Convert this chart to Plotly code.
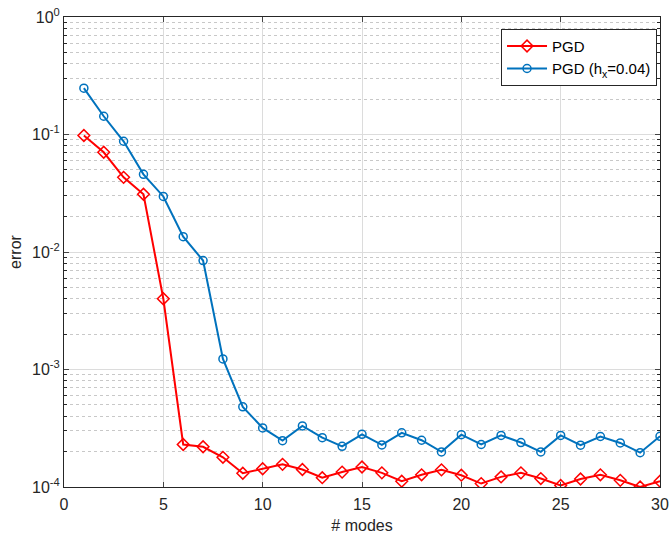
import plotly.graph_objects as go

modes = list(range(1, 31))
pgd = [0.098, 0.0706, 0.0432, 0.031, 0.0040, 2.3e-4, 2.2e-4, 1.79e-4, 1.31e-4, 1.43e-4,
       1.56e-4, 1.41e-4, 1.2e-4, 1.34e-4, 1.48e-4, 1.32e-4, 1.12e-4, 1.27e-4, 1.40e-4, 1.26e-4,
       1.07e-4, 1.22e-4, 1.32e-4, 1.18e-4, 1.03e-4, 1.17e-4, 1.27e-4, 1.14e-4, 1.0e-4, 1.12e-4]
pgd_h = [0.248, 0.143, 0.0876, 0.0458, 0.0297, 0.0135, 0.00846, 0.00123, 4.81e-4, 3.18e-4,
         2.48e-4, 3.31e-4, 2.63e-4, 2.22e-4, 2.81e-4, 2.28e-4, 2.89e-4, 2.50e-4, 1.99e-4, 2.79e-4,
         2.30e-4, 2.75e-4, 2.39e-4, 1.99e-4, 2.75e-4, 2.27e-4, 2.69e-4, 2.37e-4, 1.96e-4, 2.70e-4]

x_ticks = [0, 5, 10, 15, 20, 25, 30]
y_ticks = [1e-4, 1e-3, 1e-2, 1e-1, 1e0]
y_ticktext = ["10<sup>-4</sup>", "10<sup>-3</sup>", "10<sup>-2</sup>", "10<sup>-1</sup>", "10<sup>0</sup>"]
y_minor = [k * d for d in y_ticks[:-1] for k in range(2, 10)]

fig = go.Figure()
fig.add_trace(go.Scatter(
    x=modes, y=pgd, name="PGD", mode="lines+markers",
    line=dict(color="#FF0000", width=2),
    marker=dict(symbol="diamond-open", size=9, color="#FF0000", line=dict(width=1.5)),
))
fig.add_trace(go.Scatter(
    x=modes, y=pgd_h, name="PGD (h<sub>x</sub>=0.04)", mode="lines+markers",
    line=dict(color="#0072BD", width=2),
    marker=dict(symbol="circle-open", size=8, color="#0072BD", line=dict(width=1.5)),
))

fam = "Liberation Sans, Arial, sans-serif"
axis_font = dict(family=fam, size=16, color="#262626")

fig.update_layout(
    width=670, height=534,
    margin=dict(l=64, r=10, t=17, b=47),
    paper_bgcolor="white", plot_bgcolor="white",
    font=axis_font,
    showlegend=True,
    legend=dict(
        x=0.995, y=0.975, xanchor="right", yanchor="top",
        bgcolor="white", bordercolor="#262626", borderwidth=1,
        font=dict(family=fam, size=15, color="#000000"),
        itemwidth=40,
    ),
    xaxis=dict(
        range=[0, 30], tickvals=x_ticks, ticks="inside", ticklen=5, automargin=False,
        showline=True, linecolor="#262626", linewidth=1, mirror="ticks",
        showgrid=True, gridcolor="#DCDCDC", gridwidth=1, zeroline=False,
        ticklabelstandoff=3, ticklabeloverflow="allow",
        title=dict(text="# modes", font=dict(family=fam, size=16, color="#262626"), standoff=8),
        tickfont=axis_font,
    ),
    yaxis=dict(
        type="log", range=[-4, 0], tickvals=y_ticks, ticktext=y_ticktext,
        ticks="inside", ticklen=5, automargin=False, ticklabeloverflow="allow",
        showline=True, linecolor="#262626", linewidth=1, mirror="ticks",
        showgrid=True, gridcolor="#DCDCDC", gridwidth=1, zeroline=False,
        minor=dict(tickvals=y_minor, showgrid=True, gridcolor="#C8C8C8", griddash="dot",
                   gridwidth=1, ticks="inside", ticklen=3, tickcolor="#262626"),
        title=dict(text="error", font=dict(family=fam, size=16, color="#262626"), standoff=6),
        tickfont=axis_font,
    ),
)

fig.write_html(
    "out.html",
    config={"displayModeBar": False},
    post_script="document.body.style.margin='0px';document.body.style.overflow='hidden';",
)
